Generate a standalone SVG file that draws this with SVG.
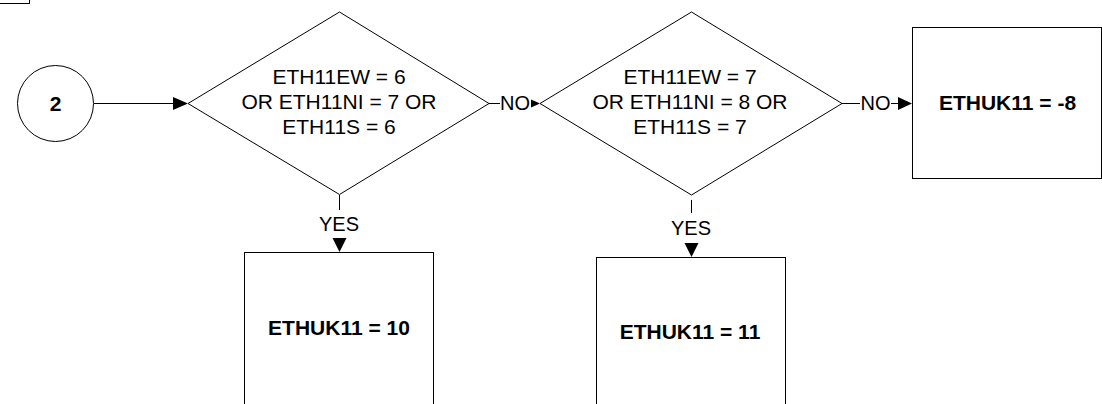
<svg xmlns="http://www.w3.org/2000/svg" width="1102" height="404" viewBox="0 0 1102 404">
<style>
.shape{fill:#fff;stroke:#000;stroke-width:1}
.line{fill:none;stroke:#000;stroke-width:1}
.head{fill:#000;stroke:none}
.t{font-family:"Liberation Sans",Arial,sans-serif;font-size:21px;fill:#000;text-anchor:middle}
.b{font-weight:bold}
.lbl{font-family:"Liberation Sans",Arial,sans-serif;font-size:20px;fill:#000;text-anchor:middle}
</style>
<rect width="1102" height="404" fill="#fff"/>
<g id="corner"><rect class="shape" x="-2" y="-10" width="31.5" height="13.5"/></g>
<g id="connectors">
<line class="line" x1="94" y1="103.5" x2="174" y2="103.5"/>
<polygon class="head" points="173,97 188,103.5 173,110"/>
<line class="line" x1="489" y1="103.5" x2="500" y2="103.5"/>
<text class="lbl" x="515" y="110">NO</text>
<polygon class="head" points="531,99.5 540,103.5 531,107.5"/>
<line class="line" x1="842" y1="103.5" x2="860" y2="103.5"/>
<text class="lbl" x="875.5" y="110">NO</text>
<line class="line" x1="891" y1="103.5" x2="899" y2="103.5"/>
<polygon class="head" points="898,97 912,103.5 898,110"/>
<line class="line" x1="339.5" y1="195" x2="339.5" y2="210"/>
<text class="lbl" x="339" y="231">YES</text>
<polygon class="head" points="332.5,238 346.5,238 339.5,252"/>
<line class="line" x1="691.5" y1="200" x2="691.5" y2="213"/>
<text class="lbl" x="691" y="235">YES</text>
<polygon class="head" points="684.5,243 698.5,243 691.5,257"/>
</g>
<g id="start"><circle class="shape" cx="55.5" cy="103.5" r="38"/><text class="t b" x="55.5" y="110.5">2</text></g>
<g id="decision1"><polygon class="shape" points="188,103.5 339.5,12 489,103.5 339.5,194.5"/>
<text class="t" x="339" y="84">ETH11EW = 6</text>
<text class="t" x="339" y="109">OR ETH11NI = 7 OR</text>
<text class="t" x="339" y="134">ETH11S = 6</text></g>
<g id="decision2"><polygon class="shape" points="540,103.5 691.5,12 842,103.5 691.5,195"/>
<text class="t" x="690" y="84">ETH11EW = 7</text>
<text class="t" x="690" y="109">OR ETH11NI = 8 OR</text>
<text class="t" x="690" y="134">ETH11S = 7</text></g>
<g id="result-8"><rect class="shape" x="912.5" y="27.5" width="189" height="151"/><text class="t b" x="1007.5" y="109.5">ETHUK11 = -8</text></g>
<g id="result10"><rect class="shape" x="244.5" y="252.5" width="189" height="160"/><text class="t b" x="339" y="335">ETHUK11 = 10</text></g>
<g id="result11"><rect class="shape" x="596.5" y="257.5" width="189" height="160"/><text class="t b" x="690" y="339">ETHUK11 = 11</text></g>
</svg>
